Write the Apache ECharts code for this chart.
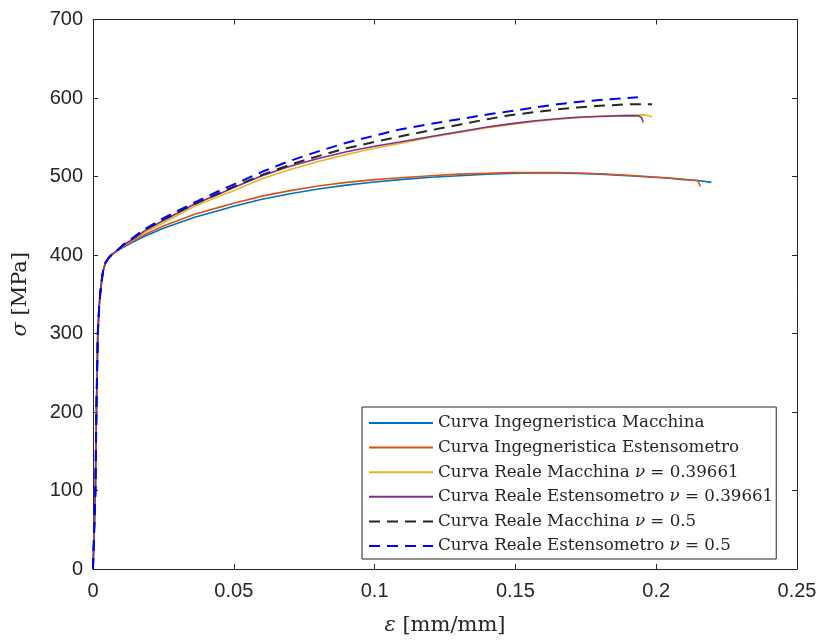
<!DOCTYPE html>
<html><head><meta charset="utf-8">
<script src="https://cdn.jsdelivr.net/npm/echarts@6/dist/echarts.min.js"></script>
<style>html,body{margin:0;padding:0;background:#fff}#c{width:820px;height:641px}</style>
</head><body><div id="c"></div>
<script>
// ---- data ----
const seriesNames = [
  'Curva Ingegneristica Macchina',
  'Curva Ingegneristica Estensometro',
  'Curva Reale Macchina ν = 0.39661',
  'Curva Reale Estensometro ν = 0.39661',
  'Curva Reale Macchina ν = 0.5',
  'Curva Reale Estensometro ν = 0.5'
];
const xTicks = [0, 0.05, 0.1, 0.15, 0.2, 0.25];
const yTicks = [0, 100, 200, 300, 400, 500, 600, 700];

// shared elastic segment
const elasticStrain = [0, 0.00085, 0.0012, 0.0017, 0.0022, 0.0026, 0.0031, 0.0036, 0.0044, 0.0053, 0.0065, 0.0083];
const elasticStress = [0, 100, 200, 300, 335, 352, 368, 380, 390, 395, 400, 405];

const engMachStrain = [0.011, 0.0145, 0.0184, 0.025, 0.0361, 0.045, 0.05, 0.06, 0.07, 0.08, 0.09, 0.1, 0.109, 0.12, 0.13, 0.14, 0.148, 0.157, 0.165, 0.172, 0.18, 0.19, 0.2036, 0.21, 0.215, 0.2196];
const engMachStress = [410, 417, 424, 434, 448, 457, 462, 471, 478, 484, 489, 493, 496, 499, 501, 503, 504, 504.5, 504.5, 504, 503, 501, 498, 496, 495, 492.5];

const engEstStrain = [0.011, 0.0145, 0.0184, 0.025, 0.0361, 0.045, 0.05, 0.06, 0.07, 0.08, 0.09, 0.1, 0.109, 0.12, 0.13, 0.14, 0.148, 0.157, 0.165, 0.172, 0.18, 0.19, 0.2036, 0.21, 0.2148, 0.2153, 0.2157];
const engEstStress = [411, 419, 426, 437, 452, 461, 466, 475, 482, 488, 492.5, 496, 498.5, 501, 503, 504, 505, 505, 505, 504.5, 503.5, 501.5, 498.5, 496.5, 494.5, 492, 487.5];

const realMach039Strain = [0.011, 0.0145, 0.0184, 0.025, 0.0361, 0.045, 0.05, 0.06, 0.07, 0.08, 0.09, 0.1, 0.109, 0.12, 0.13, 0.14, 0.148, 0.157, 0.165, 0.172, 0.18, 0.19, 0.196, 0.1985];
const realMach039Stress = [412, 420, 429, 441, 462, 475, 482, 497, 509, 519, 528, 536, 542, 550, 556, 562, 566, 570, 573, 575, 577, 578, 578.5, 576];

const realEst039Strain = [0.011, 0.0145, 0.0184, 0.025, 0.0361, 0.045, 0.05, 0.06, 0.07, 0.08, 0.09, 0.1, 0.109, 0.12, 0.13, 0.14, 0.148, 0.157, 0.165, 0.172, 0.18, 0.19, 0.194, 0.195, 0.1953];
const realEst039Stress = [413, 421, 431, 444, 465, 478, 486, 501, 513, 523, 531.5, 538.5, 544, 551, 557, 563, 567, 571, 573.5, 575.5, 576.5, 577.5, 577, 574, 569];

const realMach05Strain = [0.011, 0.0145, 0.0184, 0.025, 0.0361, 0.045, 0.05, 0.06, 0.07, 0.08, 0.09, 0.1, 0.109, 0.12, 0.13, 0.14, 0.148, 0.157, 0.165, 0.172, 0.18, 0.19, 0.1985];
const realMach05Stress = [413, 422, 432, 445, 465, 479, 487, 502, 515, 526, 536, 544, 551, 559, 566, 573, 578, 582, 585.5, 588, 590, 592, 592];

const realEst05Strain = [0.011, 0.0145, 0.0184, 0.025, 0.0361, 0.045, 0.05, 0.06, 0.07, 0.08, 0.09, 0.1, 0.109, 0.12, 0.13, 0.14, 0.148, 0.157, 0.165, 0.172, 0.18, 0.19, 0.1935];
const realEst05Stress = [414, 423, 433, 447, 467, 482, 490, 506, 520, 532, 543, 552, 560, 567, 573, 579, 583, 588, 592, 595, 597.5, 600, 601];

// ---- build ----
function pairs(xs, ys) {
  const out = [];
  for (let i = 0; i < elasticStrain.length; i++) out.push([elasticStrain[i], elasticStress[i]]);
  for (let i = 0; i < xs.length; i++) out.push([xs[i], ys[i]]);
  return out;
}
const curves = [
  [engMachStrain, engMachStress],
  [engEstStrain, engEstStress],
  [realMach039Strain, realMach039Stress],
  [realEst039Strain, realEst039Stress],
  [realMach05Strain, realMach05Stress],
  [realEst05Strain, realEst05Stress]
];
const colors = ['#0072BD', '#D95319', '#EDB120', '#7E2F8E', '#262626', '#0000FF'];
const styles = [
  {type: 'solid', width: 1.6},
  {type: 'solid', width: 1.6},
  {type: 'solid', width: 1.6},
  {type: 'solid', width: 1.6},
  {type: [11, 7], width: 2},
  {type: [11, 7], width: 2}
];

const axisCol = '#262626';
const tickFont = {fontFamily: 'Liberation Sans, Arial, sans-serif', fontSize: 20, color: axisCol};
const serif = 'DejaVu Serif';

const chart = echarts.init(document.getElementById('c'), null, {renderer: 'canvas'});
chart.setOption({
  animation: false,
  backgroundColor: '#fff',
  grid: {left: 93, top: 19.5, right: 23, bottom: 67.5, containLabel: false},
  xAxis: [{
    type: 'value', min: xTicks[0], max: xTicks[xTicks.length - 1], interval: 0.05,
    axisLine: {show: true, onZero: false, lineStyle: {color: axisCol, width: 1}},
    axisTick: {show: true, inside: true, length: 5, lineStyle: {color: axisCol}},
    axisLabel: Object.assign({margin: 12}, tickFont),
    splitLine: {show: false},
    name: '{i|ε} [mm/mm]', nameLocation: 'middle', nameGap: 46,
    nameTextStyle: {fontFamily: serif, fontSize: 21, color: axisCol,
      rich: {i: {fontFamily: serif, fontStyle: 'italic', fontSize: 21, color: axisCol}}}
  }, {
    type: 'value', position: 'top', min: xTicks[0], max: xTicks[xTicks.length - 1], interval: 0.05,
    axisLine: {show: true, onZero: false, lineStyle: {color: axisCol, width: 1}},
    axisTick: {show: true, inside: true, length: 5, lineStyle: {color: axisCol}},
    axisLabel: {show: false}, splitLine: {show: false}
  }],
  yAxis: [{
    type: 'value', min: yTicks[0], max: yTicks[yTicks.length - 1], interval: 100,
    axisLine: {show: true, onZero: false, lineStyle: {color: axisCol, width: 1}},
    axisTick: {show: true, inside: true, length: 5, lineStyle: {color: axisCol}},
    axisLabel: Object.assign({margin: 10}, tickFont),
    splitLine: {show: false},
    name: '{i|σ} [MPa]', nameLocation: 'middle', nameGap: 62, nameRotate: 90,
    nameTextStyle: {fontFamily: serif, fontSize: 21, color: axisCol,
      rich: {i: {fontFamily: serif, fontStyle: 'italic', fontSize: 21, color: axisCol}}}
  }, {
    type: 'value', position: 'right', min: yTicks[0], max: yTicks[yTicks.length - 1], interval: 100,
    axisLine: {show: true, onZero: false, lineStyle: {color: axisCol, width: 1}},
    axisTick: {show: true, inside: true, length: 5, lineStyle: {color: axisCol}},
    axisLabel: {show: false}, splitLine: {show: false}
  }],
  legend: {
    orient: 'vertical', left: 362, top: 407,
    backgroundColor: '#fff', borderColor: axisCol, borderWidth: 1, borderRadius: 0,
    padding: [7, 3, 4, 6],
    itemWidth: 64, itemHeight: 18, itemGap: 6.6,
    itemStyle: {opacity: 0},
    data: seriesNames,
    formatter: function (n) { return n.replace('ν', '{i|ν}'); },
    textStyle: {fontFamily: serif, fontSize: 16.7, color: axisCol, lineHeight: 18,
      rich: {i: {fontFamily: serif, fontStyle: 'italic', fontSize: 16.7, color: axisCol}}}
  },
  series: curves.map(function (c, k) {
    return {
      name: seriesNames[k], type: 'line', xAxisIndex: 0, yAxisIndex: 0,
      data: pairs(c[0], c[1]),
      symbol: 'none', showSymbol: false, smooth: false,
      color: colors[k],
      lineStyle: {color: colors[k], width: styles[k].width, type: styles[k].type},
      z: 2 + k
    };
  })
});
</script>
</body></html>
